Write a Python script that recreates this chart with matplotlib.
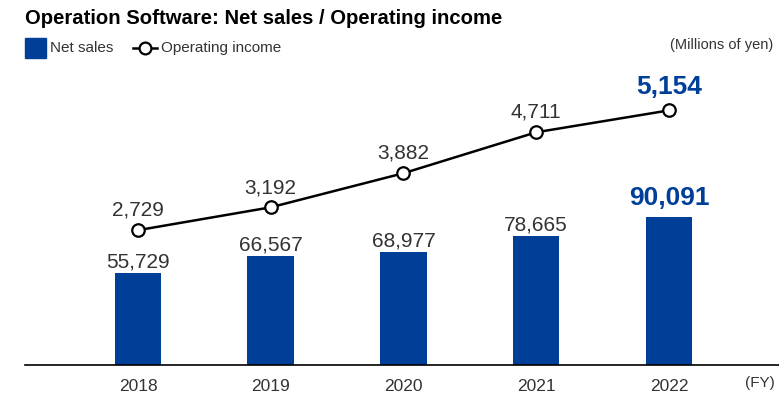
import matplotlib.pyplot as plt
from matplotlib.lines import Line2D
from matplotlib.patches import Rectangle

plt.rcParams['font.family'] = ['Liberation Sans', 'DejaVu Sans']

years = ['2018', '2019', '2020', '2021', '2022']
net_sales = [55729, 66567, 68977, 78665, 90091]
op_income = [2729, 3192, 3882, 4711, 5154]

blue = '#003f98'
txt = '#333333'

fig = plt.figure(figsize=(7.79, 3.99), dpi=100)
W, H = 779, 399
ax = fig.add_axes([25 / W, 34 / H, 754 / W, 305 / H])
ax2 = ax.twinx()

x = list(range(len(years)))
ax.bar(x, net_sales, width=0.35, color=blue, zorder=2)
ax2.plot(x, op_income, color='black', lw=1.8, marker='o', ms=9,
         mfc='white', mec='black', mew=1.6, zorder=3)

ax.set_xlim(-0.851, 4.829)
ax.set_ylim(0, 185600)
ax2.set_ylim(0, 6174)

for a in (ax, ax2):
    for s in ('top', 'right', 'left'):
        a.spines[s].set_visible(False)
    a.set_yticks([])
ax.spines['bottom'].set_linewidth(1.2)
ax.spines['bottom'].set_color('black')
ax2.spines['bottom'].set_visible(False)

ax.set_xticks(x)
ax.set_xticklabels(years, fontsize=12.5, color=txt)
ax.tick_params(axis='x', length=0, pad=10)

# value labels; the last year is highlighted
last = len(years) - 1
for i, v in enumerate(net_sales):
    if i == last:
        ax.annotate(f'{v:,}', (i, v), xytext=(0, 8.5), textcoords='offset points',
                    ha='center', va='baseline', fontsize=19, fontweight='bold', color=blue)
    else:
        ax.annotate(f'{v:,}', (i, v), xytext=(0, 4), textcoords='offset points',
                    ha='center', va='baseline', fontsize=15, color=txt)
for i, v in enumerate(op_income):
    if i == last:
        ax2.annotate(f'{v:,}', (i, v), xytext=(0, 11.5), textcoords='offset points',
                     ha='center', va='baseline', fontsize=19, fontweight='bold', color=blue)
    else:
        ax2.annotate(f'{v:,}', (i, v), xytext=(0, 10.3), textcoords='offset points',
                     ha='center', va='baseline', fontsize=15, color=txt)

fig.text(25 / W, 1 - 19 / H, 'Operation Software: Net sales / Operating income',
         fontsize=14.6, fontweight='bold', color='black', va='center', ha='left')

# legend drawn by hand
fig.patches.append(Rectangle((25 / W, 1 - 58 / H), 21 / W, 20 / H,
                             transform=fig.transFigure, color=blue))
fig.text(50 / W, 1 - 48 / H, 'Net sales', fontsize=11, color=txt, va='center')
fig.lines.append(Line2D([133 / W, 157 / W], [1 - 48 / H, 1 - 48 / H],
                        transform=fig.transFigure, color='black', lw=1.8))
fig.lines.append(Line2D([145 / W], [1 - 48 / H], transform=fig.transFigure,
                        marker='o', ms=8.5, mfc='white', mec='black', mew=1.6))
fig.text(161 / W, 1 - 48 / H, 'Operating income', fontsize=11, color=txt, va='center')

fig.text(773 / W, 1 - 45 / H, '(Millions of yen)', fontsize=10.5, color=txt,
         ha='right', va='center')
fig.text(760 / W, 1 - 383 / H, '(FY)', fontsize=11, color=txt, ha='center', va='center')

fig.savefig('out.png', dpi=100)
